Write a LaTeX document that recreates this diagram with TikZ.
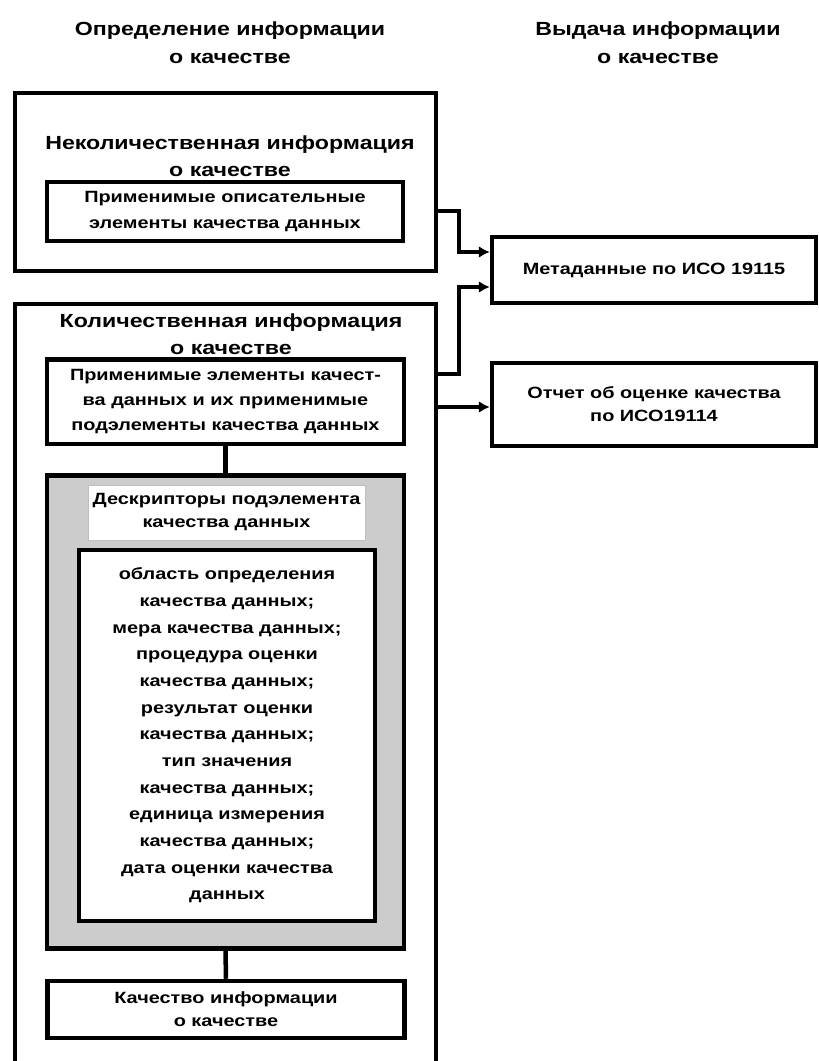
\documentclass[tikz,border=0pt]{standalone}
\usepackage{fontspec}
\setmainfont{Liberation Sans}[FakeStretch=1.22]
\usetikzlibrary{arrows.meta,calc}

\tikzset{
  heading/.style={font=\fontsize{19}{28}\selectfont\bfseries, align=center},
  boxtitle/.style={font=\fontsize{19}{27}\selectfont\bfseries, align=center},
  frame/.style={draw, line width=4.5pt, inner sep=0pt},
  item/.style={draw, line width=4.5pt, fill=white, align=center, inner sep=0pt,
               font=\fontsize{16.3}{26}\selectfont\bfseries},
  conn/.style={line width=4.5pt},
  arr/.style={conn, -{Latex[length=11pt,width=12pt]}},
}

\begin{document}
\begin{tikzpicture}[x=1pt, y=-1pt]
                \useasboundingbox (0,0) rectangle (819,1061);
                \clip (0,0) rectangle (819,1061);
                % column headings
                \node[heading] (hdrdef) at (230,43) {Определение информации\\о качестве};
                \node[heading] (hdrout) at (658,43) {Выдача информации\\о качестве};
                % left column frames
                \node[frame, minimum width=421pt, minimum height=178pt] (nonquant) at (225.5,182) {};
                \node[frame, minimum width=421pt, minimum height=786pt] (quant) at (225.5,697) {};
                \node[boxtitle] (nonquanttitle) at (230,156.5) {Неколичественная информация\\о качестве};
                \node[boxtitle] (quanttitle) at (231,334) {Количественная информация\\о качестве};
                \node[item, minimum width=356pt, minimum height=59pt] (descr) at (225,211.5)
                    {Применимые описательные\\элементы качества данных};
                \node[item, minimum width=357pt, minimum height=84.5pt, font=\fontsize{16.3}{25}\selectfont\bfseries] (applied) at (225.5,401.75)
                    {Применимые элементы качест-\\ва данных и их применимые\\подэлементы качества данных};
                \node[item, fill=black!20, minimum width=357pt, minimum height=473pt] (subdesc) at (225.5,712) {};
                \node[fill=white, draw=black!25, line width=0.4pt, inner sep=0pt, align=center,
                      font=\fontsize{16.3}{23}\selectfont\bfseries,
                      minimum width=277pt, minimum height=55pt] (subdesclabel) at (226.5,512.5)
                    {Дескрипторы подэлемента\\качества данных};
                \node[item, minimum width=296pt, minimum height=371pt, font=\fontsize{16.3}{26.67}\selectfont\bfseries] (subdesclist) at (227,735.5)
                    {область определения\\качества данных;\\мера качества данных;\\процедура оценки\\качества данных;\\результат оценки\\качества данных;\\тип значения\\качества данных;\\единица измерения\\качества данных;\\дата оценки качества\\данных};
                \node[item, minimum width=357pt, minimum height=57pt, font=\fontsize{16.3}{23}\selectfont\bfseries] (qoq) at (226,1009.5)
                    {Качество информации\\о качестве};
                % right column
                \node[item, minimum width=324pt, minimum height=66pt] (meta) at (654,270) {Метаданные по ИСО 19115};
                \node[item, minimum width=324pt, minimum height=83pt, font=\fontsize{16.3}{23}\selectfont\bfseries] (report) at (654,404.5)
                    {Отчет об оценке качества\\по ИСО19114};
                % connectors
                \coordinate (conna) at (459,211);
                \coordinate (connb) at (459,374);
                \draw[conn] (applied.south) -- (subdesc.north);
                \draw[conn] (subdesc.south) -- (qoq.north);
                \draw[arr] (nonquant.east |- conna) -- (conna) |- (meta.west |- 0,252);
                \draw[arr] (quant.east |- connb) -- (connb) |- (meta.west |- 0,287);
                \draw[arr] (quant.east |- 0,407) -- (report.west |- 0,407);
\end{tikzpicture}
\end{document}
